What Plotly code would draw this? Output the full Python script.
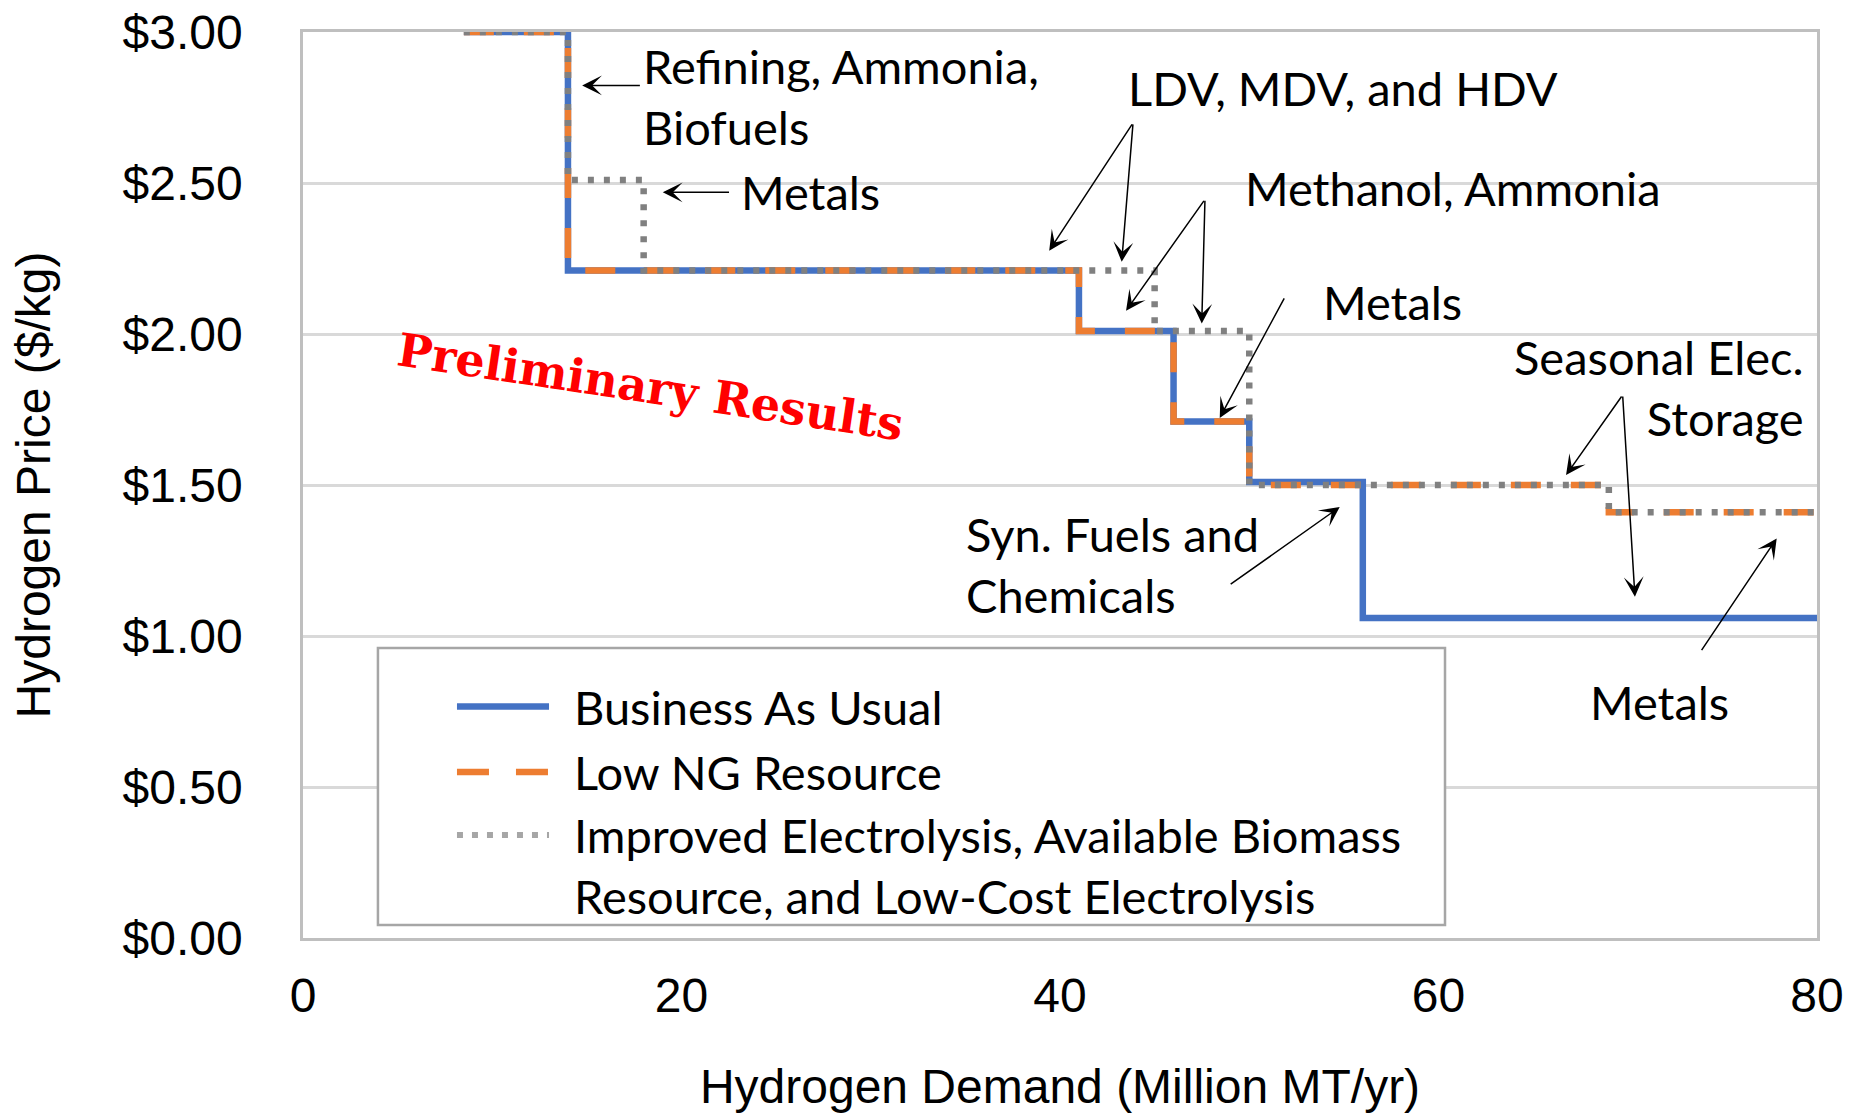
import plotly.graph_objects as go

# ---------------- data ----------------
bau_x = [8.5, 14, 41, 46, 50, 56, 80]
bau_y = [3.00, 2.21, 2.01, 1.71, 1.51, 1.06, 1.06]

lowng_x = [8.5, 14, 41, 46, 50, 69, 80]
lowng_y = [3.00, 2.21, 2.01, 1.71, 1.50, 1.41, 1.41]

impr_x = [8.5, 14, 18, 45, 50, 69, 80]
impr_y = [3.00, 2.51, 2.21, 2.01, 1.50, 1.41, 1.41]

y_tickvals = [0, 0.5, 1.0, 1.5, 2.0, 2.5, 3.0]
y_ticktext = ["$0.00", "$0.50", "$1.00", "$1.50", "$2.00", "$2.50", "$3.00"]
x_tickvals = [0, 20, 40, 60, 80]
x_ticktext = ["0", "20", "40", "60", "80"]

series_names = [
    "Business As Usual",
    "Low NG Resource",
    "Improved Electrolysis, Available Biomass<br>Resource, and Low-Cost Electrolysis",
]

# text labels: (text, x, y, xanchor, align)
labels = [
    ("Refining, Ammonia,<br>Biofuels", 17.86, 2.788, "left", "left"),
    ("Metals", 23.04, 2.470, "left", "left"),
    ("LDV, MDV, and HDV", 43.49, 2.815, "left", "left"),
    ("Methanol, Ammonia", 49.69, 2.483, "left", "left"),
    ("Metals", 53.77, 2.107, "left", "left"),
    ("Seasonal Elec.<br>Storage", 79.42, 1.824, "right", "right"),
    ("Syn. Fuels and<br>Chemicals", 34.93, 1.238, "left", "left"),
    ("Metals", 67.9, 0.782, "left", "left"),
]

# arrows: (tail_x, tail_y, tip_x, tip_y)
arrows = [
    (17.88, 2.823, 14.75, 2.823),
    (22.59, 2.469, 19.01, 2.469),
    (43.86, 2.699, 39.43, 2.276),
    (43.86, 2.699, 43.26, 2.239),
    (47.66, 2.446, 43.49, 2.077),
    (47.66, 2.446, 47.49, 2.035),
    (51.89, 2.123, 48.44, 1.722),
    (69.73, 1.798, 66.74, 1.533),
    (69.73, 1.798, 70.38, 1.130),
    (48.94, 1.168, 54.78, 1.427),
    (73.85, 0.948, 77.87, 1.323),
]

BLUE = "#4472C4"
ORANGE = "#ED7D31"
GRAY = "#808080"

fig = go.Figure()
fig.add_trace(go.Scatter(x=bau_x, y=bau_y, mode="lines", name=series_names[0],
                         line=dict(color=BLUE, width=6.5, shape="hv")))
fig.add_trace(go.Scatter(x=lowng_x, y=lowng_y, mode="lines", name=series_names[1],
                         line=dict(color=ORANGE, width=6.5, shape="hv", dash="30px,30px")))
fig.add_trace(go.Scatter(x=impr_x, y=impr_y, mode="lines", name=series_names[2],
                         line=dict(color=GRAY, width=6.5, shape="hv", dash="6px,10px")))

TXT_FONT = dict(family="Lato, Carlito, sans-serif", size=47, color="#000000")
annotations = []
for t, x, y, xa, al in labels:
    annotations.append(dict(text=t, x=x, y=y, xref="x", yref="y", xanchor=xa, yanchor="middle",
                            align=al, showarrow=False, font=TXT_FONT))
for tx, ty, hx, hy in arrows:
    annotations.append(dict(text="", x=hx, y=hy, ax=tx, ay=ty, xref="x", yref="y",
                            axref="x", ayref="y", showarrow=True, arrowhead=3,
                            arrowsize=2.2, arrowwidth=1.5, arrowcolor="#000000"))

annotations.append(dict(text="Preliminary Results", x=18.34, y=1.824, xref="x", yref="y",
                        showarrow=False, textangle=8.5,
                        font=dict(family="DejaVu Serif", size=46, color="#FF0000", weight="bold")))

# manual legend (paper coords)
shapes = [dict(type="rect", xref="paper", yref="paper", x0=0.0495, x1=0.7543, y0=0.0144, y1=0.320,
               line=dict(color="#A6A6A6", width=2.5), fillcolor="white", layer="above")]
leg_rows = [0.2554, 0.1832, 0.1137]
leg_styles = [dict(color=BLUE, width=6.5, dash="solid"),
              dict(color=ORANGE, width=6.5, dash="32px,27px"),
              dict(color="#A6A6A6", width=6, dash="6px,9px")]
for yr, st in zip(leg_rows, leg_styles):
    shapes.append(dict(type="line", xref="paper", yref="paper", x0=0.1017, x1=0.1625, y0=yr, y1=yr,
                       line=st, layer="above"))
leg_text_y = [0.2554, 0.1832, 0.0795]
for name, yt in zip(series_names, leg_text_y):
    annotations.append(dict(text=name, x=0.1777, y=yt, xref="paper", yref="paper", xanchor="left",
                            yanchor="middle", align="left", showarrow=False, font=TXT_FONT))

AX_FONT = dict(family="Liberation Sans, Arial, sans-serif", size=48, color="#000000")
fig.update_layout(
    width=1862, height=1113,
    margin=dict(l=303, r=45, t=32, b=175),
    paper_bgcolor="white", plot_bgcolor="white",
    showlegend=False,
    shapes=shapes, annotations=annotations,
    xaxis=dict(range=[0, 80], tickvals=x_tickvals, ticktext=x_ticktext, tickfont=AX_FONT,
               showgrid=False, zeroline=False, showline=True, mirror=True, automargin=False,
               linecolor="#BFBFBF", linewidth=2.5, ticks="", ticklabelstandoff=14,
               ticklabeloverflow="allow",
               title=dict(text="Hydrogen Demand (Million MT/yr)", font=AX_FONT, standoff=66)),
    yaxis=dict(range=[0, 3], tickvals=y_tickvals, ticktext=y_ticktext, tickfont=AX_FONT,
               showgrid=True, gridcolor="#D9D9D9", gridwidth=2.5, zeroline=False, automargin=False,
               showline=True, mirror=True, linecolor="#BFBFBF", linewidth=2.5, ticks="",
               ticklabelstandoff=48, ticklabeloverflow="allow",
               title=dict(text="Hydrogen Price ($/kg)", font=AX_FONT, standoff=57)),
)

# remove the page's default 8px body margin so the figure sits at the window origin
fig.write_html("out.html", config={"displayModeBar": False},
               post_script="document.body.style.margin='0px';")
